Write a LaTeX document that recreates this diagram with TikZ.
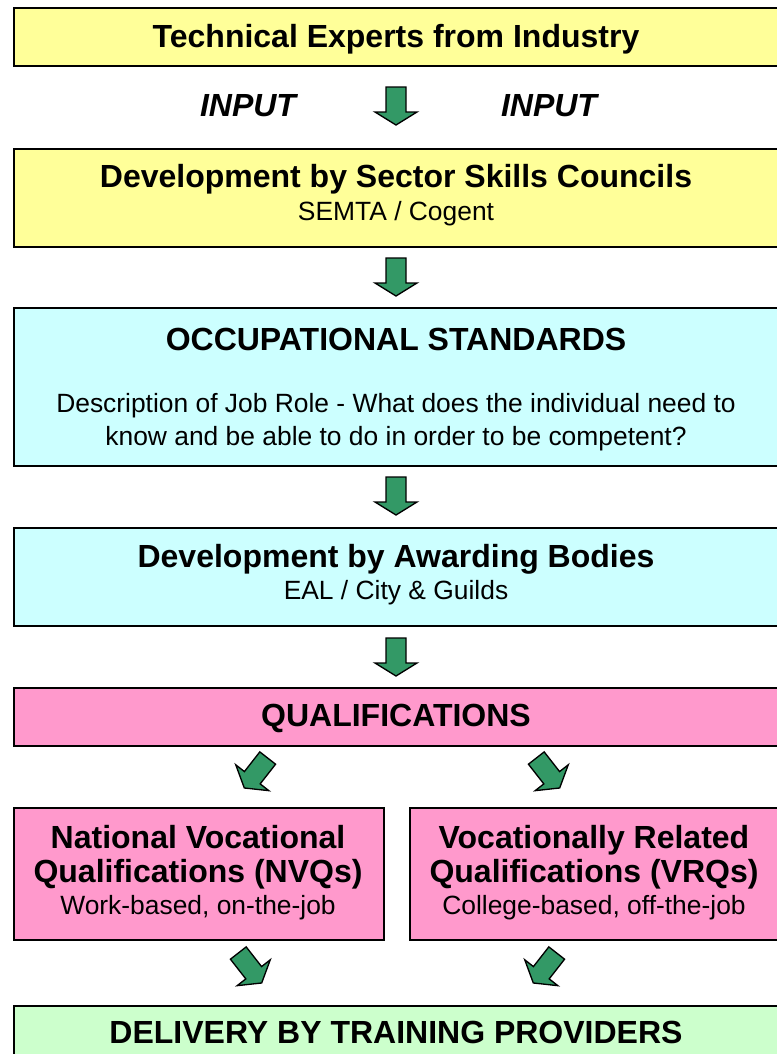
\documentclass[tikz,border=0pt]{standalone}
\usepackage{fontspec}
\setmainfont{Liberation Sans}
\definecolor{boxyellow}{HTML}{FFFF99}
\definecolor{boxcyan}{HTML}{CCFFFF}
\definecolor{boxpink}{HTML}{FF99CC}
\definecolor{boxgreen}{HTML}{CCFFCC}
\definecolor{arrowgreen}{HTML}{339966}
\tikzset{
  box/.style={draw=black, line width=1.2pt, anchor=north west, inner sep=0pt, minimum width=574.5pt},
  halfbox/.style={box, minimum width=277.5pt},
  title/.style={font=\bfseries\fontsize{24}{25.5}\selectfont, align=center, inner sep=0pt},
  sub/.style={font=\fontsize{19.8}{24.75}\selectfont, align=center, inner sep=0pt},
  inputlabel/.style={font=\bfseries\itshape\fontsize{24}{25}\selectfont, inner sep=0pt},
  pics/blockarrow/.style={code={
    \draw[fill=arrowgreen, line width=1pt, line join=miter]
      (-10,-19) -- (10,-19) -- (10,6) -- (21,6) -- (0,19) -- (-21,6) -- (-10,6) -- cycle;
  }}
}
\begin{document}
\begin{tikzpicture}[x=0.75pt,y=-0.75pt]
	\useasboundingbox (0,0) rectangle (777,1054);
	\clip (0,0) rectangle (777,1054);

	% boxes
	\node[box, fill=boxyellow, minimum height=43.5pt] (techbox) at (13,7) {};
	\node[box, fill=boxyellow, minimum height=73.5pt] (sscbox) at (13,148) {};
	\node[box, fill=boxcyan, minimum height=118.5pt] (occbox) at (13,307) {};
	\node[box, fill=boxcyan, minimum height=73.5pt] (awardbox) at (13,527) {};
	\node[box, fill=boxpink, minimum height=43.5pt] (qualbox) at (13,687) {};
	\node[halfbox, fill=boxpink, minimum height=99pt] (nvqbox) at (13,807) {};
	\node[halfbox, fill=boxpink, minimum height=99pt] (vrqbox) at (409,807) {};
	\node[box, fill=boxgreen, minimum height=60pt] (delbox) at (13,1005) {};

	% texts
	\node[title] (tech) at (396,39) {Technical Experts from Industry};
	\node[inputlabel] (inleft) at (248,106) {INPUT};
	\node[inputlabel] (inright) at (549,106) {INPUT};
	\node[title] (ssc) at (396,179) {Development by Sector Skills Councils};
	\node[sub] (sscsub) at (396,214) {SEMTA / Cogent};
	\node[title] (occ) at (396,339) {OCCUPATIONAL STANDARDS};
	\node[sub] (occsub) at (396,422) {Description of Job Role - What does the individual need to\\know and be able to do in order to be competent?};
	\node[title] (award) at (396,559) {Development by Awarding Bodies};
	\node[sub] (awardsub) at (396,593) {EAL / City \& Guilds};
	\node[title] (qual) at (396,718) {QUALIFICATIONS};
	\node[title] (nvq) at (198,857) {National Vocational\\Qualifications (NVQs)};
	\node[sub] (nvqsub) at (198,908) {Work-based, on-the-job};
	\node[title] (vrq) at (594,857) {Vocationally Related\\Qualifications (VRQs)};
	\node[sub] (vrqsub) at (594,908) {College-based, off-the-job};
	\node[title] (del) at (396,1032) {DELIVERY BY TRAINING PROVIDERS};

	% arrows
	\pic at (396,106) {blockarrow};
	\pic at (396,277) {blockarrow};
	\pic at (396,496) {blockarrow};
	\pic at (396,657) {blockarrow};
	\pic[rotate=-38] at (256,773) {blockarrow};
	\pic[rotate=38] at (548,773) {blockarrow};
	\pic[rotate=38] at (250,968) {blockarrow};
	\pic[rotate=-38] at (545,968) {blockarrow};
\end{tikzpicture}
\end{document}
